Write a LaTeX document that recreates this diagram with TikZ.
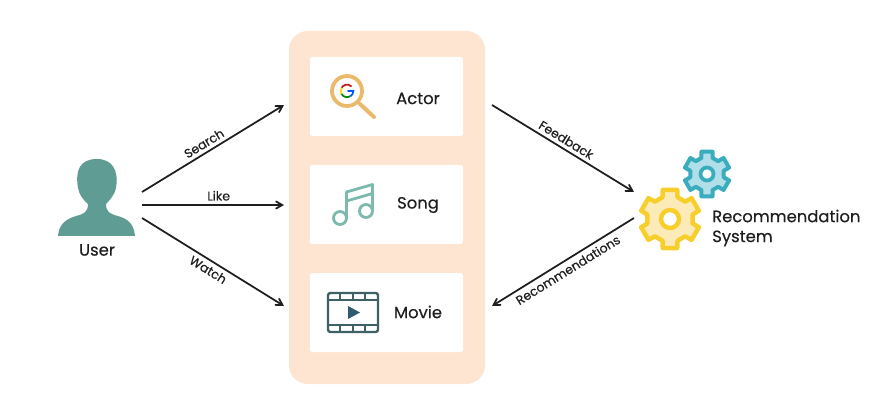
\documentclass[tikz,border=0pt]{standalone}
\usepackage{fontspec}
\setmainfont[FakeBold=0.3]{Poppins}
\usepackage{tikz}
\usetikzlibrary{arrows, calc, positioning}
\definecolor{panelcolor}{HTML}{FDE5D1}
\definecolor{usercolor}{HTML}{5F9C93}
\definecolor{notecolor}{HTML}{7DB9AD}
\definecolor{filmcolor}{HTML}{3F6163}
\definecolor{playcolor}{HTML}{2F5B70}
\definecolor{lenscolor}{HTML}{EBB96A}
\definecolor{bluegear}{HTML}{39ADBD}
\definecolor{bluefill}{HTML}{B0DEE9}
\definecolor{yellowgear}{HTML}{F8CE2B}
\definecolor{yellowfill}{HTML}{FCEBB8}
\definecolor{textcolor}{HTML}{1E1E1E}
\tikzset{
	itembox/.style={fill=white, rounded corners=2pt},
	itemtext/.style={font=\fontsize{14}{17}\selectfont, text=textcolor},
	linktext/.style={font=\fontsize{10.7}{12}\selectfont, text=textcolor, sloped, inner sep=3pt},
	link/.style={line width=1.5pt, draw=textcolor, ->}
}
% one gear: center, outer radius, root radius, stroke width, stroke colour, fill colour
\newcommand{\gearshape}[6]{
	\draw[shift={(#1)}, line width=#4, draw=#5, fill=#6, line join=round] (-90-19:#3) \foreach \a in {-90,-30,...,210} {-- (\a-19:#3) -- (\a-14:#2) -- (\a+14:#2) -- (\a+19:#3) } -- cycle;
}
\begin{document}
\begin{tikzpicture}[>=angle 60, x=0.03cm, y=-0.03cm]
	\useasboundingbox (0,0) rectangle (877,402);
	\fill[panelcolor, rounded corners=16pt] (289,31) rectangle (485,384);
	\foreach \t in {57,165,273} {\fill[itembox] (310,\t) rectangle (463,\t+79);}

	% user
	\fill[usercolor] (58,236) .. controls (59,224) and (66,219) .. (76,216) .. controls (84,214) and (88,212) .. (88,204) .. controls (83,200) and (79,194) .. (78,188) .. controls (75,170) and (80,159) .. (97,159) .. controls (112,159) and (119,170) .. (116,188) .. controls (115,194) and (110,200) .. (106,204) .. controls (106,212) and (110,214) .. (118,216) .. controls (128,219) and (134,224) .. (135,236) -- cycle;
	\node[itemtext] (user) at (97,250) {User};

	% magnifier
	\draw[lenscolor, line width=3.2pt] (347,91) circle (15);
	\draw[lenscolor, line width=3.4pt, line cap=round] (360,104) -- (374,117);
	\draw[red!75!black!90, line width=1.5pt] (351.5,86.5) arc (-45:-150:6.3);
	\draw[yellow!80!orange, line width=1.5pt] (341.6,88) arc (-150:-210:6.3);
	\draw[green!55!black, line width=1.5pt] (341.6,94) arc (150:60:6.3);
	\draw[blue!65!cyan, line width=1.5pt] (350.2,96.4) arc (60:0:6.3) -- (347.5,91);

	% notes
	\draw[notecolor, line width=2.4pt] (340,218) circle (6.5) (366,211) circle (6.5);
	\draw[notecolor, line width=2.4pt, line join=round] (346.5,218) -- (346.5,192) -- (372.5,184.5) -- (372.5,211) (346.5,201) -- (372.5,193.5);

	% film
	\draw[filmcolor, line width=2pt, rounded corners=2pt] (328,293) rectangle (378,332);
	\draw[filmcolor, line width=2pt] (328,300) -- (378,300) (328,325) -- (378,325);
	\foreach \x in {340,353,365} {\draw[filmcolor, line width=1.6pt] (\x,293) -- (\x,300) (\x,325) -- (\x,332);}
	\fill[playcolor] (348,306) -- (360,312.5) -- (348,319) -- cycle;

	% items
	\node[itemtext] (actor) at (418,98.5) {Actor};
	\node[itemtext] (song) at (418,205) {Song};
	\node[itemtext] (movie) at (418,312) {Movie};

	% gears
	\coordinate (bluecenter) at (707,174);
	\coordinate (yellowcenter) at (670,219);
	\gearshape{bluecenter}{23}{17}{3.4pt}{bluegear}{bluefill}
	\draw[bluegear, line width=3.2pt, fill=white] (bluecenter) circle (6.5);
	\gearshape{yellowcenter}{30}{23}{3.8pt}{yellowgear}{yellowfill}
	\draw[yellowgear, line width=3.8pt, fill=white] (yellowcenter) circle (9);
	\node[itemtext, align=left, anchor=west, inner sep=0pt] (recsys) at (712,228) {Recommendation\\System};

	% arrows
	\coordinate (usertop) at (142,192); \coordinate (usermid) at (142,205); \coordinate (userlow) at (142,218);
	\coordinate (actorin) at (284,105); \coordinate (songin) at (284,205); \coordinate (moviein) at (284,306);
	\coordinate (actorout) at (492,105); \coordinate (movieout) at (492,306);
	\coordinate (gearin) at (634,192); \coordinate (gearout) at (634,218);
	\draw[link] (usertop) -- node[linktext, above, pos=.47] (search) {Search} (actorin);
	\draw[link] (usermid) -- node[linktext, above, pos=.54] (like) {Like} (songin);
	\draw[link] (userlow) -- node[linktext, below, pos=.5] (watch) {Watch} (moviein);
	\draw[link] (actorout) -- node[linktext, above, pos=.49] (feedback) {Feedback} (gearin);
	\draw[link] (gearout) -- node[linktext, below, pos=.5] (recommendations) {Recommendations} (movieout);
\end{tikzpicture}
\end{document}
